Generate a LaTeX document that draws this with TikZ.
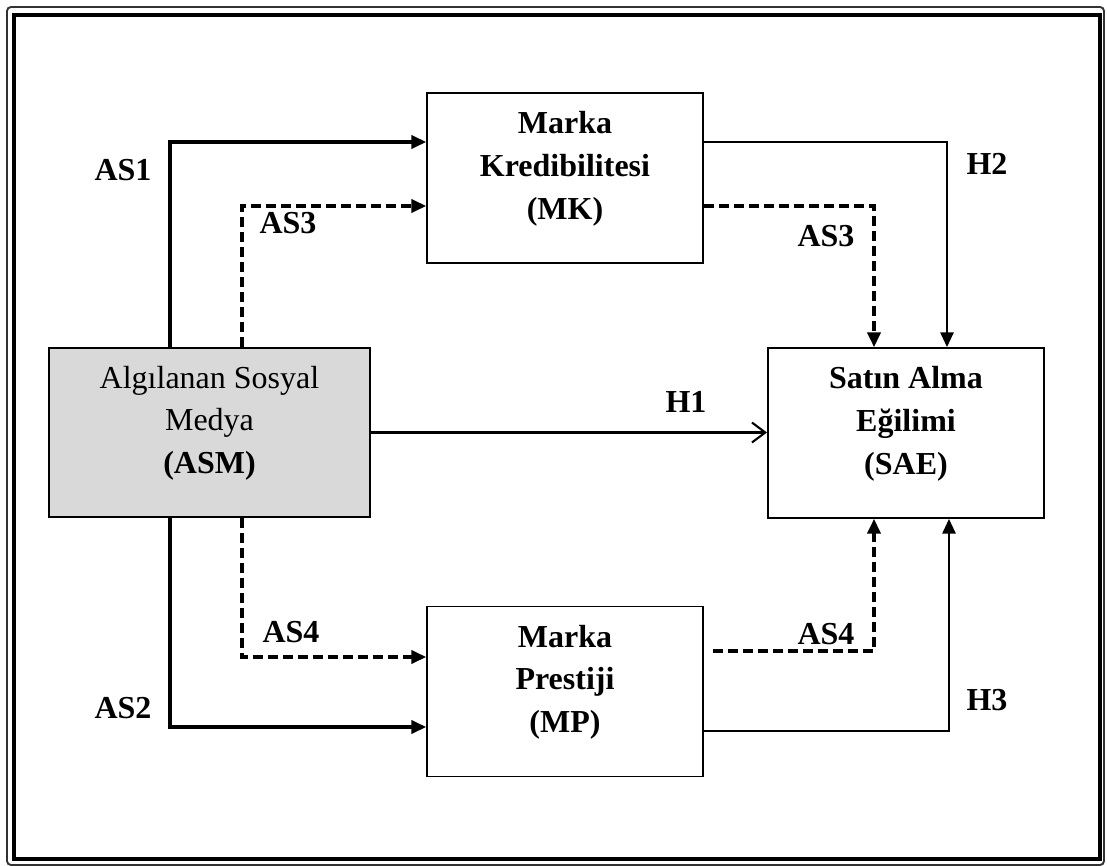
\documentclass[tikz,border=0pt]{standalone}
\usepackage{fontspec}
\setmainfont{Liberation Serif}
\usetikzlibrary{arrows.meta}

\tikzset{
	box/.style={draw, line width=0.5mm, minimum width=207pt, minimum height=127.5pt},
	boxtext/.style={align=center, font=\bfseries\fontsize{24}{32}\selectfont},
	lbl/.style={font=\bfseries\fontsize{24}{29}\selectfont},
	heavy/.style={line width=0.8mm, -{Triangle[length=11pt,width=10pt]}},
	dashy/.style={line width=0.8mm, dash pattern=on 7.5pt off 3.75pt, -{Triangle[length=11pt,width=10pt]}},
	slim/.style={line width=0.45mm, -{Triangle[length=11pt,width=10pt]}},
}

\begin{document}
\begin{tikzpicture}[x=0.75pt, y=-0.75pt]
		%%%%% START %%%%%
		\useasboundingbox (0,0) rectangle (1107,866);
		
		\draw[line width=0.5mm, color=black!80, rounded corners=3pt] (7,7) rectangle (1104,865);
		\draw[line width=0.8mm] (14,15) rectangle (1100,859);
		
		\node[box, fill=black!15, minimum width=240.75pt, minimum height=126.75pt] (asm) at (209.5,432.5) {};
		\node[box] (mk) at (565,178) {};
		\node[box] (sae) at (906,433) {};
		\node[box] (mp) at (565,691.5) {};
		
		\node[align=center, font=\fontsize{24}{32}\selectfont, yshift=7pt] (asmtext) at (asm.center) {Algılanan Sosyal\\Medya\\\textbf{(ASM)}};
		\node[boxtext, yshift=7pt] (mktext) at (mk.center) {Marka\\Kredibilitesi\\(MK)};
		\node[boxtext, yshift=7pt] (saetext) at (sae.center) {Satın Alma\\Eğilimi\\(SAE)};
		\node[boxtext, yshift=7pt] (mptext) at (mp.center) {Marka\\Prestiji\\(MP)};
		
		\coordinate (asonebend) at (170,142);
		\coordinate (asthreebend) at (242,206);
		\coordinate (htwobend) at (947,142);
		\coordinate (asthreedrop) at (874,206);
		\coordinate (asfourbend) at (242,657);
		\coordinate (astwobend) at (170,727);
		\coordinate (asfourrise) at (874,651);
		\coordinate (hthreebend) at (949,731);
		
		\draw[heavy] (asm.north -| asonebend) |- (mk.west |- asonebend);
		\draw[dashy] (asm.north -| asthreebend) |- (mk.west |- asthreebend);
		\draw[slim] (mk.east |- htwobend) -| (sae.north -| htwobend);
		\draw[dashy] (mk.east |- asthreedrop) -| (sae.north -| asthreedrop);
		
		\draw[line width=0.55mm, -{Straight Barb[length=10pt,width=15pt]}] (asm.east) -- (asm.east -| sae.west);
		
		\draw[dashy] (asm.south -| asfourbend) |- (mp.west |- asfourbend);
		\draw[heavy] (asm.south -| astwobend) |- (mp.west |- astwobend);
		\draw[dashy, shorten <=6.75pt] (mp.east |- asfourrise) -| (sae.south -| asfourrise);
		\draw[slim] (mp.east |- hthreebend) -| (sae.south -| hthreebend);
		
		\node[lbl] (asone) at (123,170) {AS1};
		\node[lbl] (asthreeleft) at (288,223) {AS3};
		\node[lbl] (htwo) at (987,164) {H2};
		\node[lbl] (asthreeright) at (826,236) {AS3};
		\node[lbl] (hone) at (686,402) {H1};
		\node[lbl] (asfourleft) at (291,632) {AS4};
		\node[lbl] (astwo) at (123,708) {AS2};
		\node[lbl] (asfourright) at (826,634) {AS4};
		\node[lbl] (hthree) at (987,700) {H3};
		
		%%%%% END %%%%%
	\end{tikzpicture}
\end{document}
